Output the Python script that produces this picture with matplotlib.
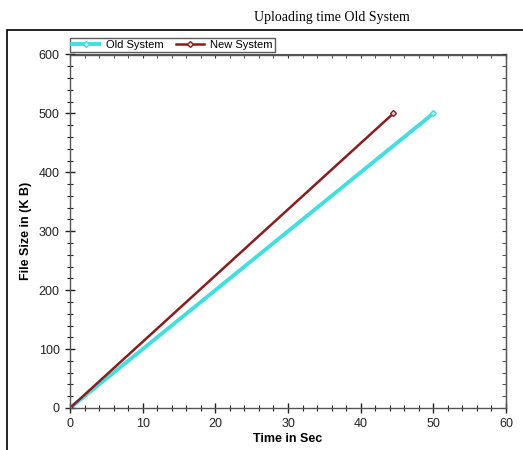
import matplotlib.pyplot as plt
from matplotlib.patches import Rectangle
from matplotlib.ticker import MultipleLocator

# values
old_time = [0, 50]
old_size = [0, 500]
new_time = [0, 44.5]
new_size = [0, 500]

x_ticks = [0, 10, 20, 30, 40, 50, 60]
y_ticks = [0, 100, 200, 300, 400, 500, 600]

plt.rcParams['font.family'] = ['Liberation Sans', 'DejaVu Sans']

fig = plt.figure(figsize=(5.23, 4.5), dpi=100)

# outer frame, cut at the right and bottom edges like the screenshot
fig.patches.append(Rectangle((7 / 523, -0.1), 1.2, 1 - 30 / 450 + 0.1,
                             transform=fig.transFigure, fill=False,
                             edgecolor='black', linewidth=1.2))

fig.text(332 / 523, 1 - 18 / 450, "Uploading time Old System",
         family='Liberation Serif', fontsize=10, ha='center', va='center')

ax = fig.add_axes([70 / 523, 1 - 408 / 450, 436 / 523, 353.5 / 450])

ax.plot(old_time, old_size, color='#3fe0e0', linewidth=2.8, marker='D',
        markersize=3, markerfacecolor='#c8f4f4', label='Old System')
ax.plot(new_time, new_size, color='#8b1c1c', linewidth=1.8, marker='D',
        markersize=3, markerfacecolor='#f0e0e0', label='New System')

ax.set_xlim(0, 60)
ax.set_ylim(0, 600)
ax.set_xticks(x_ticks)
ax.set_yticks(y_ticks)
ax.xaxis.set_minor_locator(MultipleLocator(2))
ax.yaxis.set_minor_locator(MultipleLocator(20))

for s in ax.spines.values():
    s.set_color('#555555')
    s.set_linewidth(1.0)

ax.tick_params(which='major', direction='inout', length=7, width=1,
               color='#222222', labelsize=9, labelcolor='#222222', pad=4)
ax.tick_params(which='minor', direction='inout', length=5, width=0.8,
               color='#222222')

# little inward ticks on the top and right edges
top = ax.secondary_xaxis('top')
top.set_xticks(x_ticks)
top.xaxis.set_minor_locator(MultipleLocator(2))
top.tick_params(which='both', direction='in', length=3, labeltop=False,
                color='#333333')
right = ax.secondary_yaxis('right')
right.set_yticks(y_ticks)
right.yaxis.set_minor_locator(MultipleLocator(20))
right.tick_params(which='both', direction='in', length=3, labelright=False,
                  color='#333333')
for sec in (top, right):
    for s in sec.spines.values():
        s.set_color('#555555')

ax.set_xlabel("Time in Sec", fontsize=9, fontweight='bold', labelpad=2)
ax.set_ylabel("File Size in (K B)", fontsize=9, fontweight='bold', labelpad=5)

leg = ax.legend(loc='lower left', bbox_to_anchor=(0.0, 1.008), ncol=2,
                fontsize=8, frameon=True, fancybox=False, borderpad=0.15,
                handlelength=2.5, handletextpad=0.6, columnspacing=1.1,
                borderaxespad=0)
leg.get_frame().set_edgecolor('#333333')
leg.get_frame().set_linewidth(1.0)

fig.savefig("out.png", dpi=100)
